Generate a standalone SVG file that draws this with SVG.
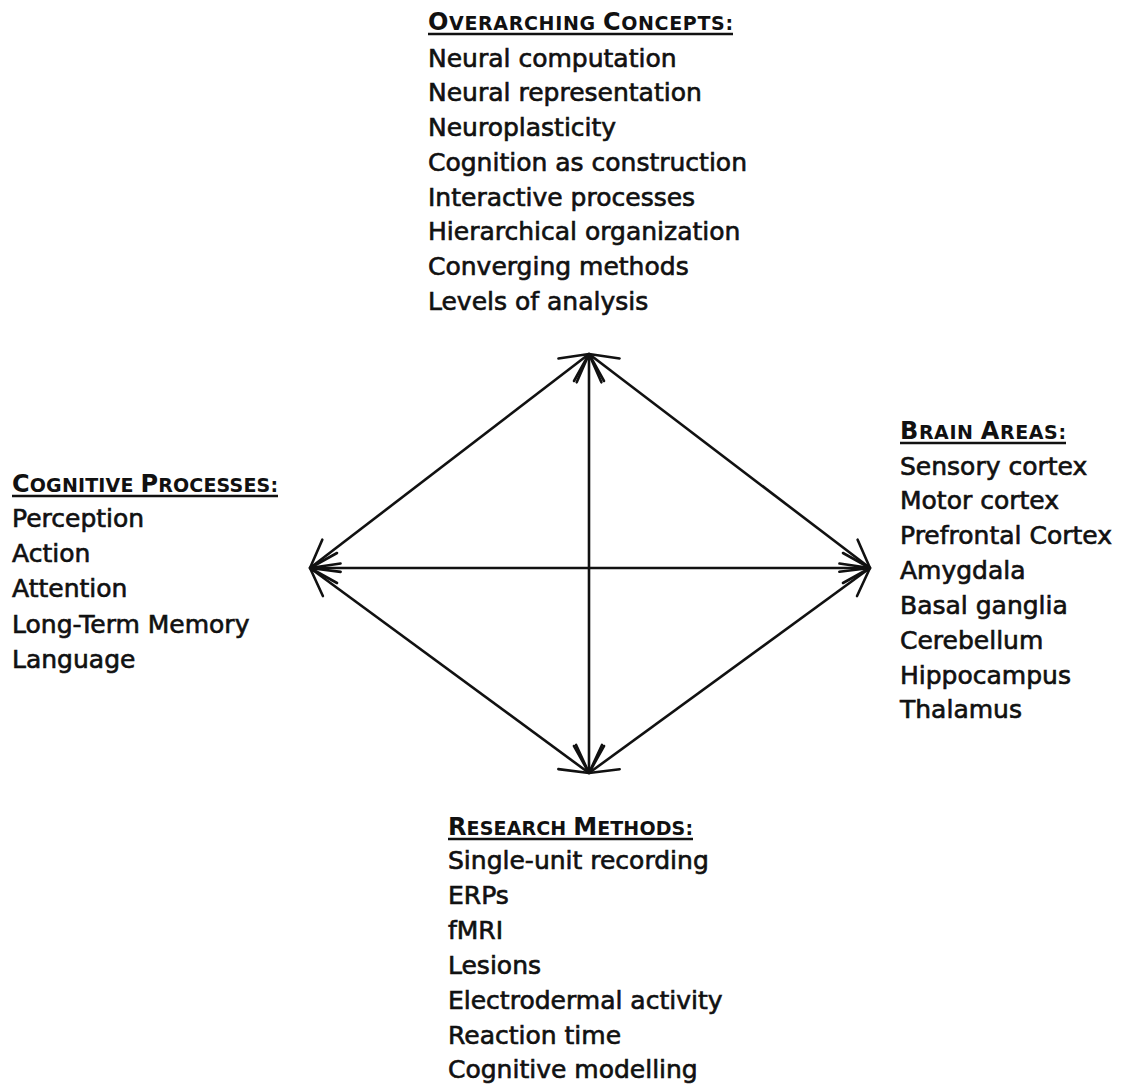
<svg xmlns="http://www.w3.org/2000/svg" width="1127" height="1084" viewBox="0 0 1127 1084">
<defs>
<style>
.t{font-family:"DejaVu Sans","Liberation Sans",sans-serif;font-size:25px;fill:#111;stroke:#111;stroke-width:0.65}
.h{font-family:"DejaVu Sans","Liberation Sans",sans-serif;font-size:24px;font-weight:bold;fill:#111}
.s{font-size:19px}
.u{stroke:#111;stroke-width:2.4}
.c{stroke:#111;stroke-width:2.6;fill:none;marker-start:url(#ah);marker-end:url(#ah)}
</style>
<marker id="ah" markerUnits="userSpaceOnUse" markerWidth="40" markerHeight="40" viewBox="-32 -20 36 40" refX="0" refY="0" orient="auto-start-reverse">
<path d="M-27,-15 L0,0 L-27,15" fill="none" stroke="#111" stroke-width="2.6" stroke-linecap="round" stroke-linejoin="round"/>
</marker>
</defs>
<rect width="1127" height="1084" fill="#fff"/>
<g id="connectors">
<line class="c" x1="589" y1="354" x2="310" y2="568"/>
<line class="c" x1="589" y1="354" x2="870" y2="568"/>
<line class="c" x1="589" y1="773" x2="310" y2="568"/>
<line class="c" x1="589" y1="773" x2="870" y2="568"/>
<line class="c" x1="589" y1="354" x2="589" y2="773"/>
<line class="c" x1="310" y1="568" x2="870" y2="568"/>
</g>
<g id="overarching-concepts">
<text class="h" x="428" y="30" textLength="305" lengthAdjust="spacing">O<tspan class="s">VERARCHING </tspan>C<tspan class="s">ONCEPTS:</tspan></text>
<line class="u" x1="428" y1="34" x2="733" y2="34"/>
<text class="t" x="428" y="67">Neural computation</text>
<text class="t" x="428" y="101">Neural representation</text>
<text class="t" x="428" y="136">Neuroplasticity</text>
<text class="t" x="428" y="171">Cognition as construction</text>
<text class="t" x="428" y="206">Interactive processes</text>
<text class="t" x="428" y="240">Hierarchical organization</text>
<text class="t" x="428" y="275">Converging methods</text>
<text class="t" x="428" y="310">Levels of analysis</text>
</g>
<g id="cognitive-processes">
<text class="h" x="12" y="492" textLength="266" lengthAdjust="spacing">C<tspan class="s">OGNITIVE </tspan>P<tspan class="s">ROCESSES:</tspan></text>
<line class="u" x1="12" y1="496" x2="278" y2="496"/>
<text class="t" x="12" y="527">Perception</text>
<text class="t" x="12" y="562">Action</text>
<text class="t" x="12" y="597">Attention</text>
<text class="t" x="12" y="633">Long-Term Memory</text>
<text class="t" x="12" y="668">Language</text>
</g>
<g id="brain-areas">
<text class="h" x="900" y="439" textLength="166" lengthAdjust="spacing">B<tspan class="s">RAIN </tspan>A<tspan class="s">REAS:</tspan></text>
<line class="u" x1="900" y1="443" x2="1066" y2="443"/>
<text class="t" x="900" y="475">Sensory cortex</text>
<text class="t" x="900" y="509">Motor cortex</text>
<text class="t" x="900" y="544">Prefrontal Cortex</text>
<text class="t" x="900" y="579">Amygdala</text>
<text class="t" x="900" y="614">Basal ganglia</text>
<text class="t" x="900" y="649">Cerebellum</text>
<text class="t" x="900" y="684">Hippocampus</text>
<text class="t" x="900" y="718">Thalamus</text>
</g>
<g id="research-methods">
<text class="h" x="448" y="835" textLength="245" lengthAdjust="spacing">R<tspan class="s">ESEARCH </tspan>M<tspan class="s">ETHODS:</tspan></text>
<line class="u" x1="448" y1="839" x2="693" y2="839"/>
<text class="t" x="448" y="869">Single-unit recording</text>
<text class="t" x="448" y="904">ERPs</text>
<text class="t" x="448" y="939">fMRI</text>
<text class="t" x="448" y="974">Lesions</text>
<text class="t" x="448" y="1009">Electrodermal activity</text>
<text class="t" x="448" y="1044">Reaction time</text>
<text class="t" x="448" y="1078">Cognitive modelling</text>
</g>
</svg>
